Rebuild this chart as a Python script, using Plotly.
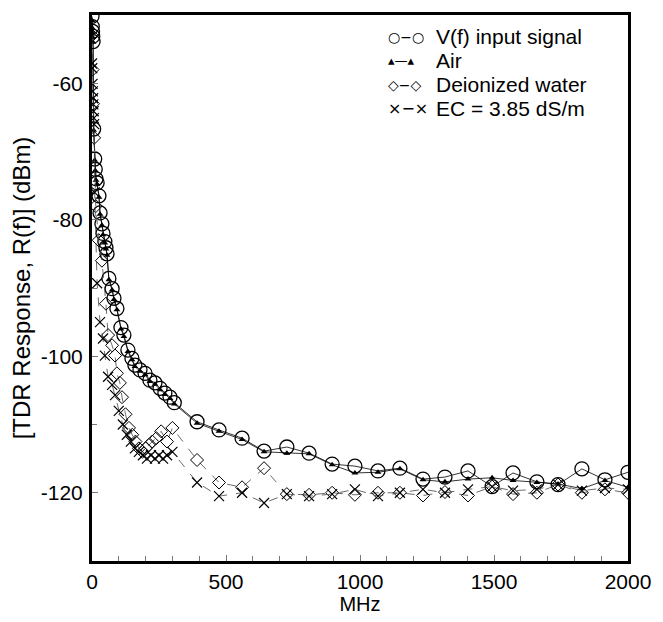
import plotly.graph_objects as go

# ---- data ----
v_freq = [0, 1, 2, 3, 4, 6, 10, 12, 15, 19, 26, 30, 37, 41, 48, 52, 56, 63, 75, 82, 93,
          108, 119, 134, 149, 160, 179, 198, 216, 235, 254, 272, 291, 307,
          392, 474, 560, 642, 727, 810, 896, 981, 1067, 1149, 1235, 1317, 1403,
          1493, 1571, 1660, 1739, 1828, 1914, 2000]
v_db = [-50.2, -51.7, -52.4, -53.1, -53.9, -66.7, -71.1, -72.6, -74.0, -74.6, -76.5, -79.0,
        -80.6, -82.0, -83.2, -84.1, -85.0, -88.6, -90.1, -91.5, -93.0,
        -95.8, -96.9, -99.1, -100.3, -101.3, -102.0, -102.5, -103.5, -103.9, -104.7, -105.4,
        -106.0, -106.8,
        -109.6, -110.8, -112.0, -113.9, -113.3, -114.2, -115.8, -116.1, -116.8, -116.4,
        -118.0, -117.7, -116.8, -119.1, -117.1, -118.4, -118.8, -116.5, -118.1, -117.0]

air_freq = v_freq
air_db = [-50.8, -51.9, -52.6, -53.3, -54.0, -66.9, -71.3, -72.8, -74.2, -74.8, -76.7, -79.2,
          -80.8, -82.2, -83.4, -84.3, -85.2, -88.8, -90.3, -91.7, -93.2,
          -96.0, -97.1, -99.3, -100.5, -101.5, -102.2, -102.7, -103.7, -104.1, -104.9, -105.6,
          -106.2, -107.0,
          -109.8, -111.0, -112.2, -114.0, -114.2, -114.3, -115.9, -117.1, -117.0, -116.5,
          -118.1, -118.4, -118.0, -117.8, -118.2, -118.5, -118.7, -119.4, -118.2, -119.2]

di_freq = [0, 2, 4, 8, 14, 25, 37, 52, 60, 75, 86, 93, 104, 112, 125, 138, 150, 162, 175,
           188, 200, 212, 225, 240, 258, 280, 300,
           392, 474, 560, 642, 727, 810, 896, 981, 1067, 1149, 1235, 1317, 1403,
           1493, 1571, 1660, 1739, 1828, 1914, 2000]
di_db = [-53.0, -58.0, -63.0, -68.0, -78.0, -83.0, -86.0, -92.3, -96.9, -98.4, -99.9, -102.5,
         -103.9, -106.0, -108.5, -110.5, -111.5, -112.5, -113.5, -114.0, -113.5, -113.0,
         -112.5, -112.0, -111.0, -112.5, -110.5,
         -115.2, -118.5, -119.2, -116.4, -120.2, -120.3, -120.0, -120.3, -120.0, -120.0,
         -120.4, -119.9, -120.4, -119.1, -120.2, -120.0, -118.8, -120.0, -119.5, -120.0]

ec_freq = [0, 1, 2, 3, 4, 5, 6, 7, 8, 10, 19, 30, 41, 48, 60, 75, 86, 100, 115, 130, 145,
           160, 175, 190, 205, 220, 235, 250, 265, 280, 300,
           392, 474, 560, 642, 727, 810, 896, 981, 1067, 1149, 1235, 1317, 1403,
           1493, 1571, 1660, 1739, 1828, 1914, 2000]
ec_db = [-57.1, -57.8, -60.1, -61.2, -62.2, -63.1, -64.1, -65.1, -66.0, -76.0, -89.3, -95.0,
         -97.4, -99.9, -103.0, -104.2, -105.7, -108.0, -110.0, -111.5, -112.5, -113.5, -114.0,
         -114.5, -115.0, -114.5, -115.0, -114.5, -115.0, -114.5, -114.0,
         -118.5, -120.5, -120.0, -121.5, -120.2, -120.5, -120.2, -119.5, -120.5, -120.0,
         -119.5, -120.0, -119.5, -119.1, -119.7, -119.5, -118.8, -119.7, -119.3, -119.5]

series_names = ["V(f) input signal", "Air", "Deionized water", "EC = 3.85 dS/m"]
legend_glyphs = ["○−○", "▴—▴", "◇−◇", "×−×"]
legend_glyph_sizes = [14, 13, 14, 16]

x_tickvals = [0, 500, 1000, 1500, 2000]
y_tickvals = [-60, -80, -100, -120]

FONT = "Liberation Sans, Arial, Helvetica, sans-serif"

fig = go.Figure()

fig.add_trace(go.Scatter(
    x=v_freq, y=v_db, name=series_names[0], mode="lines+markers",
    line=dict(color="black", width=0.8),
    marker=dict(symbol="circle-open", size=14, color="black", line=dict(width=1.3))))
fig.add_trace(go.Scatter(
    x=air_freq, y=air_db, name=series_names[1], mode="lines+markers",
    line=dict(color="black", width=0.8),
    marker=dict(symbol="triangle-up", size=6, color="black")))
fig.add_trace(go.Scatter(
    x=di_freq, y=di_db, name=series_names[2], mode="lines+markers",
    line=dict(color="#444444", width=0.8, dash="dash"),
    marker=dict(symbol="diamond-open", size=10, color="black", line=dict(width=1))))
fig.add_trace(go.Scatter(
    x=ec_freq, y=ec_db, name=series_names[3], mode="lines+markers",
    line=dict(color="#444444", width=0.8, dash="dash"),
    marker=dict(symbol="x-thin-open", size=10, color="black", line=dict(width=1.2, color="black"))))

# legend drawn as text rows (key glyphs + series names) in the upper right corner
row_y = [0.960, 0.916, 0.872, 0.828]
for i, name in enumerate(series_names):
    fig.add_annotation(xref="paper", yref="paper", x=0.5504, y=row_y[i],
                       xanchor="left", yanchor="middle", showarrow=False,
                       text=legend_glyphs[i], borderpad=0,
                       font=dict(family="DejaVu Sans", size=legend_glyph_sizes[i], color="black"))
    fig.add_annotation(xref="paper", yref="paper", x=0.64, y=row_y[i],
                       xanchor="left", yanchor="middle", showarrow=False,
                       text=name, borderpad=0,
                       font=dict(family=FONT, size=21, color="black"))

fig.update_layout(
    width=663, height=622,
    margin=dict(l=92, r=35, t=15, b=61),
    paper_bgcolor="white", plot_bgcolor="white",
    font=dict(family=FONT, size=21, color="black"),
    showlegend=False,
)

fig.update_xaxes(
    range=[0, 2000], tickvals=x_tickvals, ticktext=[str(v) for v in x_tickvals],
    showline=True, linewidth=3, linecolor="black", mirror=True,
    ticks="inside", ticklen=6, tickcolor="#777777", tickwidth=1,
    minor=dict(dtick=100, ticks="inside", ticklen=5, tickcolor="#777777", tickwidth=1),
    showgrid=False, zeroline=False,
    title=dict(text="MHz", font=dict(size=20), standoff=4),
    tickfont=dict(size=21), ticklabelstandoff=0,
)
fig.update_yaxes(
    range=[-130, -50], tickvals=y_tickvals, ticktext=[str(v) for v in y_tickvals],
    showline=True, linewidth=3, linecolor="black", mirror=True,
    ticks="inside", ticklen=6, tickcolor="#777777", tickwidth=1,
    minor=dict(dtick=10, ticks="inside", ticklen=5, tickcolor="#777777", tickwidth=1),
    showgrid=False, zeroline=False,
    title=dict(text="[TDR Response, R(f)] (dBm)", font=dict(size=24), standoff=4),
    tickfont=dict(size=21), ticklabelstandoff=2,
)

fig.write_html("out.html")
